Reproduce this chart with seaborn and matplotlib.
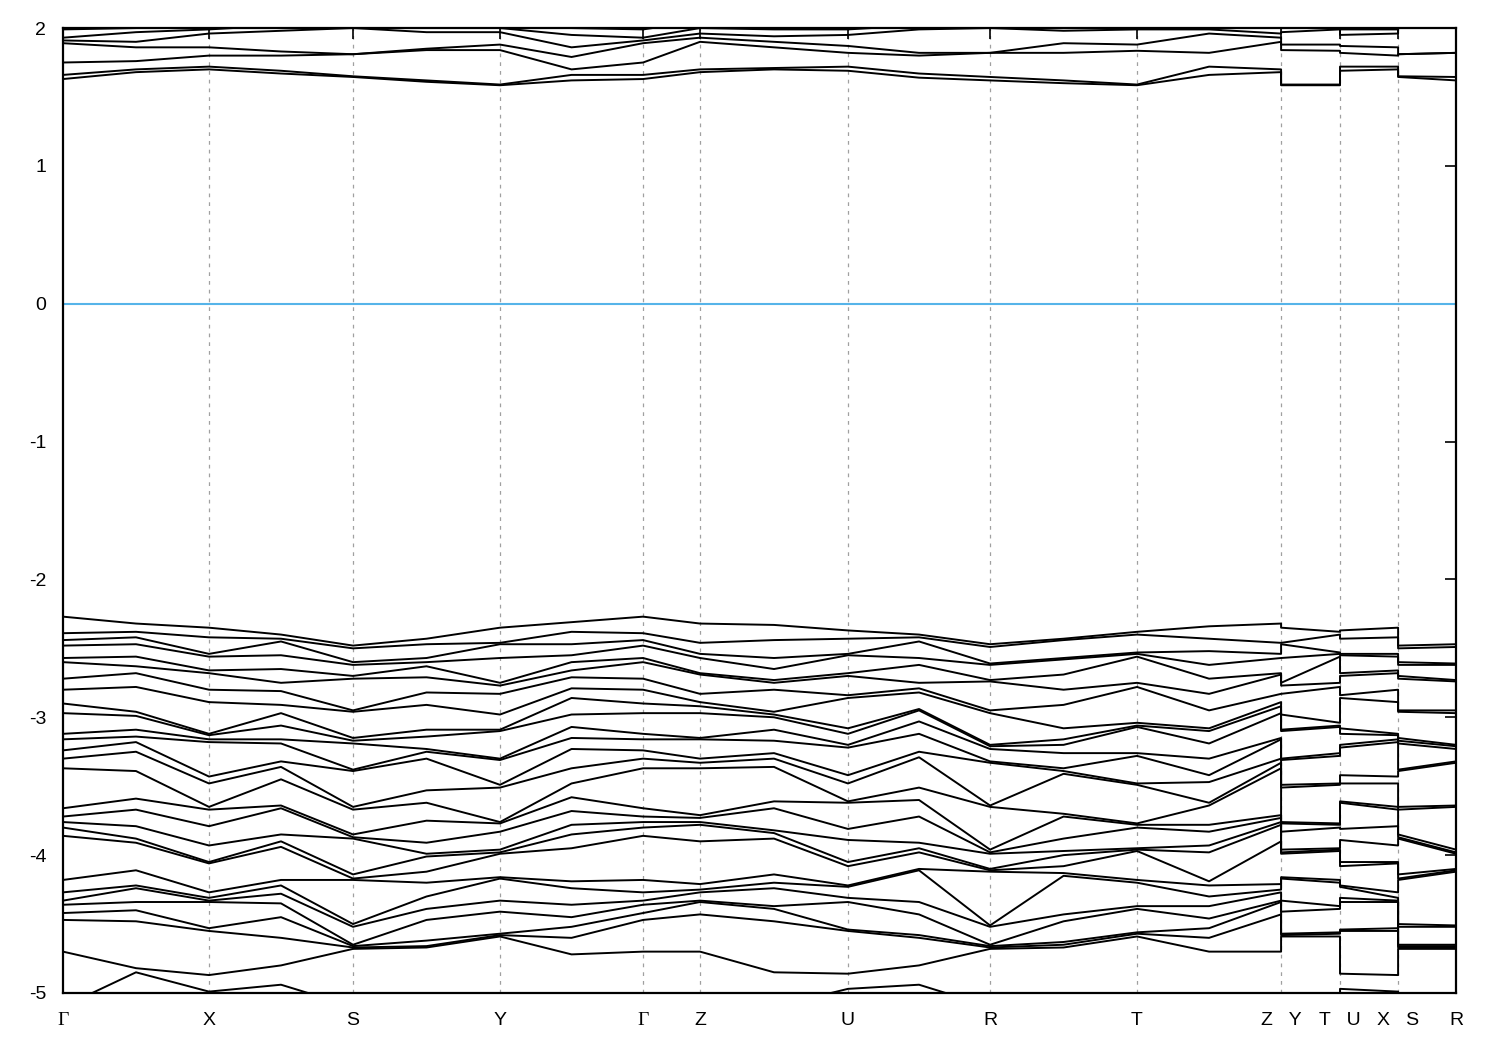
import numpy as np
import pandas as pd
import matplotlib
matplotlib.use("Agg")
import matplotlib.pyplot as plt
import seaborn as sns

# k-path: high-symmetry points (path length, normalised)
tick_k = [0.0, 0.1048, 0.2082, 0.3137, 0.4164, 0.4573, 0.5635, 0.6655, 0.7710, 0.8744, 0.9167, 0.9584, 1.0]
tick_labels = ["Γ", "X", "S", "Y", "Γ", "Z", "U", "R", "T", "Z   Y", "T   U", "X   S", "R"]

# valence levels (eV) at every node, highest first
G = [-2.27, -2.39, -2.44, -2.48, -2.57, -2.60, -2.72, -2.80, -2.90, -2.97, -3.12, -3.16, -3.24, -3.30, -3.37,
     -3.66, -3.72, -3.76, -3.80, -3.86, -4.18, -4.27, -4.33, -4.36, -4.42, -4.47, -4.70, -5.10, -5.20, -5.30]
GX = [-2.32, -2.38, -2.42, -2.47, -2.56, -2.63, -2.68, -2.78, -2.96, -2.99, -3.09, -3.14, -3.18, -3.25, -3.39,
      -3.59, -3.67, -3.79, -3.88, -3.91, -4.11, -4.22, -4.24, -4.34, -4.40, -4.48, -4.82, -4.85, -5.05, -5.15]
X = [-2.35, -2.42, -2.54, -2.56, -2.66, -2.68, -2.80, -2.89, -3.12, -3.13, -3.16, -3.18, -3.43, -3.48, -3.65,
     -3.67, -3.79, -3.93, -4.05, -4.06, -4.27, -4.31, -4.33, -4.34, -4.53, -4.55, -4.87, -4.99, -5.10, -5.25]
XS = [-2.40, -2.43, -2.45, -2.55, -2.65, -2.75, -2.81, -2.91, -2.97, -3.06, -3.16, -3.19, -3.32, -3.36, -3.45,
      -3.64, -3.66, -3.85, -3.90, -3.94, -4.18, -4.22, -4.28, -4.35, -4.45, -4.60, -4.80, -4.94, -5.15, -5.30]
S = [-2.48, -2.50, -2.60, -2.62, -2.70, -2.72, -2.95, -2.96, -3.15, -3.17, -3.19, -3.38, -3.39, -3.65, -3.67,
     -3.85, -3.87, -3.88, -4.14, -4.17, -4.18, -4.50, -4.52, -4.65, -4.66, -4.67, -4.68, -5.10, -5.20, -5.30]
SY = [-2.43, -2.47, -2.57, -2.60, -2.63, -2.71, -2.82, -2.91, -3.09, -3.14, -3.23, -3.25, -3.30, -3.53, -3.62,
      -3.75, -3.91, -3.99, -4.01, -4.12, -4.20, -4.30, -4.39, -4.47, -4.62, -4.66, -4.67, -5.10, -5.20, -5.30]
Y = [-2.35, -2.46, -2.47, -2.57, -2.75, -2.77, -2.83, -2.98, -3.09, -3.10, -3.30, -3.31, -3.49, -3.51, -3.76,
     -3.77, -3.83, -3.96, -3.98, -3.99, -4.16, -4.17, -4.33, -4.41, -4.57, -4.58, -4.59, -5.10, -5.20, -5.30]
YG = [-2.31, -2.38, -2.47, -2.55, -2.60, -2.66, -2.71, -2.79, -2.86, -2.98, -3.07, -3.15, -3.23, -3.37, -3.48,
      -3.58, -3.68, -3.78, -3.85, -3.95, -4.19, -4.24, -4.36, -4.45, -4.52, -4.60, -4.72, -5.10, -5.20, -5.30]
Z = [-2.32, -2.46, -2.54, -2.57, -2.68, -2.69, -2.83, -2.89, -2.92, -2.97, -3.15, -3.16, -3.30, -3.33, -3.37,
     -3.71, -3.73, -3.76, -3.78, -3.90, -4.21, -4.25, -4.27, -4.33, -4.34, -4.43, -4.70, -5.10, -5.20, -5.30]
ZU = [-2.33, -2.44, -2.57, -2.65, -2.73, -2.75, -2.80, -2.96, -2.98, -3.00, -3.09, -3.17, -3.26, -3.30, -3.36,
      -3.61, -3.66, -3.82, -3.84, -3.88, -4.14, -4.20, -4.24, -4.37, -4.39, -4.48, -4.85, -5.10, -5.20, -5.30]
U = [-2.37, -2.43, -2.54, -2.55, -2.68, -2.70, -2.84, -2.86, -3.08, -3.12, -3.20, -3.22, -3.42, -3.48, -3.61,
     -3.62, -3.81, -3.89, -4.05, -4.08, -4.22, -4.23, -4.31, -4.34, -4.54, -4.55, -4.86, -4.97, -5.10, -5.20]
UR = [-2.40, -2.42, -2.45, -2.57, -2.62, -2.75, -2.79, -2.82, -2.94, -2.95, -3.03, -3.12, -3.25, -3.29, -3.51,
      -3.60, -3.72, -3.91, -3.95, -3.98, -4.10, -4.11, -4.34, -4.43, -4.58, -4.60, -4.80, -4.94, -5.10, -5.20]
R = [-2.47, -2.49, -2.61, -2.62, -2.73, -2.74, -2.95, -2.97, -3.20, -3.21, -3.23, -3.32, -3.33, -3.64, -3.65,
     -3.96, -3.98, -3.99, -4.10, -4.11, -4.12, -4.51, -4.52, -4.65, -4.66, -4.67, -4.68, -5.10, -5.20, -5.30]
RT = [-2.43, -2.44, -2.57, -2.58, -2.69, -2.80, -2.91, -3.08, -3.16, -3.20, -3.26, -3.37, -3.39, -3.41, -3.70,
      -3.72, -3.88, -3.97, -4.00, -4.08, -4.13, -4.15, -4.43, -4.48, -4.63, -4.65, -4.67, -5.10, -5.20, -5.30]
T = [-2.38, -2.40, -2.53, -2.54, -2.56, -2.75, -2.78, -3.04, -3.06, -3.07, -3.26, -3.28, -3.48, -3.49, -3.77,
     -3.78, -3.80, -3.95, -3.96, -3.97, -4.18, -4.20, -4.37, -4.39, -4.56, -4.57, -4.59, -5.10, -5.20, -5.30]
TZ = [-2.34, -2.43, -2.52, -2.62, -2.72, -2.83, -2.95, -3.08, -3.10, -3.19, -3.30, -3.42, -3.47, -3.62, -3.64,
      -3.78, -3.83, -3.93, -3.98, -4.19, -4.22, -4.30, -4.37, -4.46, -4.53, -4.60, -4.70, -5.10, -5.20, -5.30]

# conduction levels (eV) at every node, lowest first
cG = [1.63, 1.66, 1.75, 1.89, 1.91, 1.93, 1.99]
cGX = [1.68, 1.70, 1.76, 1.86, 1.90, 1.97, 2.00]
cX = [1.70, 1.72, 1.80, 1.86, 1.96, 1.99, 2.05]
cXS = [1.67, 1.69, 1.80, 1.83, 1.98, 2.02, 2.08]
cS = [1.645, 1.65, 1.81, 1.81, 2.00, 2.05, 2.10]
cSY = [1.61, 1.62, 1.84, 1.85, 1.97, 2.02, 2.05]
cY = [1.585, 1.59, 1.84, 1.88, 1.97, 2.00, 2.05]
cYG = [1.62, 1.66, 1.70, 1.79, 1.86, 1.95, 2.00]
cZ = [1.68, 1.70, 1.90, 1.93, 1.96, 2.00, 2.05]
cZU = [1.70, 1.71, 1.86, 1.90, 1.94, 1.99, 2.05]
cU = [1.69, 1.72, 1.82, 1.87, 1.95, 1.99, 2.05]
cUR = [1.64, 1.67, 1.80, 1.82, 1.99, 2.02, 2.05]
cR = [1.62, 1.645, 1.82, 1.82, 2.00, 2.05, 2.10]
cRT = [1.60, 1.62, 1.82, 1.89, 1.98, 2.02, 2.05]
cT = [1.585, 1.59, 1.835, 1.88, 1.99, 2.00, 2.05]
cTZ = [1.66, 1.72, 1.82, 1.96, 1.99, 2.02, 2.05]

# node order along the path (jumps Z|Y, T|U, X|S repeat the same k)
t = tick_k
k_nodes = [t[0], (t[0] + t[1]) / 2, t[1], (t[1] + t[2]) / 2, t[2], (t[2] + t[3]) / 2, t[3], (t[3] + t[4]) / 2,
           t[4], t[5], (t[5] + t[6]) / 2, t[6], (t[6] + t[7]) / 2, t[7], (t[7] + t[8]) / 2, t[8],
           (t[8] + t[9]) / 2, t[9], t[9], t[10], t[10], t[11], t[11], t[12]]
val_nodes = [G, GX, X, XS, S, SY, Y, YG, G, Z, ZU, U, UR, R, RT, T, TZ, Z, Y, T, U, X, S, R]
con_nodes = [cG, cGX, cX, cXS, cS, cSY, cY, cYG, cG, cZ, cZU, cU, cUR, cR, cRT, cT, cTZ, cZ, cY, cT, cU, cX, cS, cR]

rows = []
for b in range(len(G)):
    for k, lev in zip(k_nodes, val_nodes):
        rows.append({"k": k, "E": lev[b], "band": f"v{b}"})
for b in range(len(cG)):
    for k, lev in zip(k_nodes, con_nodes):
        rows.append({"k": k, "E": lev[b], "band": f"c{b}"})
df = pd.DataFrame(rows)

sns.set_style("white")
plt.rcParams["font.family"] = ["Liberation Sans", "DejaVu Sans"]
plt.rcParams["axes.unicode_minus"] = False

fig = plt.figure(figsize=(15, 10.5), dpi=100)
ax = fig.add_axes([0.042, 0.0543, 0.9287, 0.919])

for x in tick_k[1:-1]:
    ax.axvline(x, color="#a0a0a0", lw=0.9, ls=(0, (3, 4)), zorder=0)
ax.axhline(0, color="#56b4e9", lw=1.5, zorder=1)

sns.lineplot(data=df, x="k", y="E", units="band", estimator=None, sort=False,
             color="black", lw=1.4, ax=ax, legend=False)

ax.set_xlim(0, 1)
ax.set_ylim(-5, 2)
ax.set_xticks(tick_k)
ax.set_xticklabels(tick_labels)
for lab in ax.get_xticklabels():
    if lab.get_text() == "Γ":
        lab.set_fontfamily(["Liberation Serif", "DejaVu Serif"])
ax.set_yticks(range(-5, 3))
ax.set_xlabel("")
ax.set_ylabel("")
ax.tick_params(axis="both", which="major", direction="in", length=8, width=1.2,
               top=True, right=True, labelsize=14, colors="black")
ax.tick_params(axis="x", pad=14)
ax.tick_params(axis="y", pad=12)
for sp in ax.spines.values():
    sp.set_linewidth(1.6)
    sp.set_color("black")

fig.savefig("out.png", dpi=100)
